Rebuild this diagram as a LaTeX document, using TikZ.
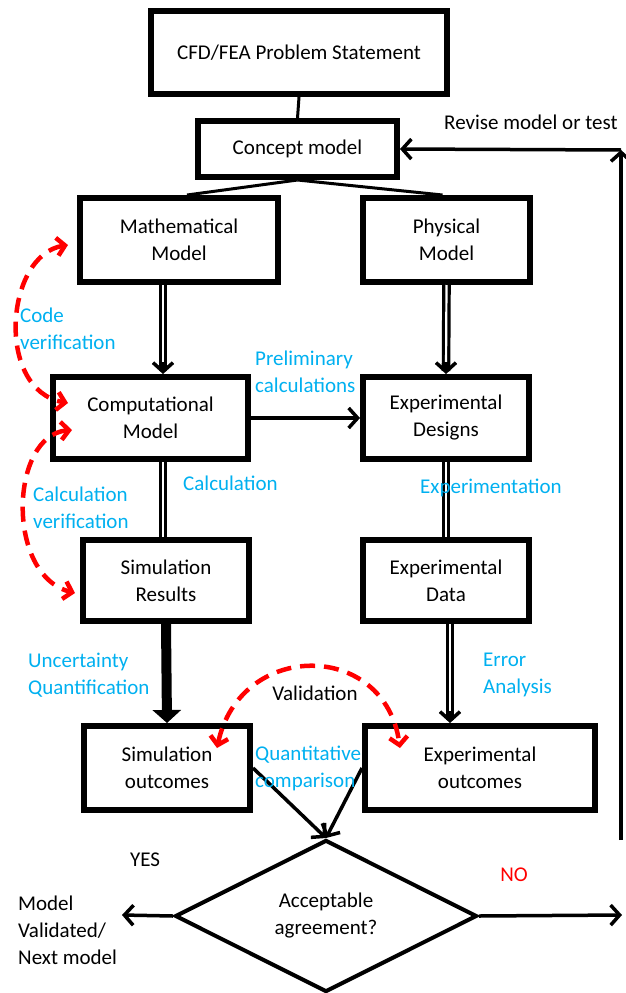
\documentclass[tikz,border=0pt]{standalone}
\usepackage{fontspec}
\setmainfont{Carlito}
\usetikzlibrary{arrows.meta,shapes.geometric,calc}
\definecolor{cblue}{HTML}{00B0F0}
\definecolor{cred}{HTML}{FF0000}
\begin{document}
\begin{tikzpicture}[x=1pt,y=-1pt,
  every node/.style={font=\fontsize{21}{27}\selectfont, inner sep=0pt},
  box/.style={draw, line width=6pt, align=center},
  lbl/.style={text=cblue, align=left, anchor=west},
  plain/.style={line width=3pt},
  arr/.style={line width=3.5pt, -{Straight Barb[length=9pt,width=20pt]}},
  dbl/.style={double, line width=3.2pt, double distance=2.2pt},
  fat/.style={line width=10pt, -{Triangle[length=13pt,width=28pt]}},
  redarr/.style={cred, line width=4.5pt, dash pattern=on 15pt off 9pt, {Straight Barb[length=8pt,width=18pt]}-{Straight Barb[length=8pt,width=18pt]}}
]
\useasboundingbox (0,0) rectangle (625,993);

% boxes
\node[box, minimum width=296, minimum height=83] (ps) at (299,52.5) {CFD/FEA Problem Statement};
\node[box, minimum width=199, minimum height=56] (concept) at (297.5,149) {Concept model};
\node[box, minimum width=198, minimum height=84] (math) at (179,240) {Mathematical\\Model};
\node[box, minimum width=167, minimum height=84] (phys) at (446.5,240) {Physical\\Model};
\node[box, minimum width=195, minimum height=82] (comp) at (150.5,418) {Computational\\Model};
\node[box, minimum width=166, minimum height=82] (expd) at (446,418) {Experimental\\Designs};
\node[box, minimum width=166, minimum height=81] (simr) at (166,580.5) {Simulation\\Results};
\node[box, minimum width=166, minimum height=81] (expdata) at (446,580.5) {Experimental\\Data};
\node[box, minimum width=166, minimum height=84] (simo) at (167,768) {Simulation\\outcomes};
\node[box, minimum width=230, minimum height=84] (expo) at (480,768) {Experimental\\outcomes};
\node[draw, shape=diamond, aspect=2, line width=4pt, align=center, minimum width=302, minimum height=152] (dec) at (326,916) {Acceptable\\agreement?};

% helper coordinates
\coordinate (mc) at (163,0);
\coordinate (ec) at (450,0);
\coordinate (yesend) at (122,915);
\coordinate (noend) at (622,915);
\coordinate (fbbot) at (621,840);
\coordinate (fbtop) at (621,150);
\coordinate (cv1) at (68,245);
\coordinate (cv2) at (68,403);
\coordinate (cl1) at (72,430);
\coordinate (cl2) at (75,593);
\coordinate (va1) at (217,748);
\coordinate (va2) at (400,748);

% connectors
\draw[plain] (ps.south) -- (concept.north);
\draw[plain] (concept.south) -- ([xshift=8]math.north);
\draw[plain] (concept.south) -- ([xshift=-4]phys.north);
% double-line arrows (line, then tip)
\draw[dbl] (mc |- math.south) -- ($(mc |- comp.north)+(0,-3)$);
\draw[arr] ($(mc |- comp.north)+(0,-12)$) -- (mc |- comp.north);
\draw[dbl] (phys.south) -- ($(expd.north)+(0,-3)$);
\draw[arr] ($(expd.north)+(0,-12)$) -- (expd.north);
\draw[arr] (comp.east) -- (expd.west);
\draw[dbl] (mc |- comp.south) -- (mc |- simr.north);
\draw[dbl] (expd.south) -- (expdata.north);
\draw[fat] (simr.south) -- (simo.north);
\draw[dbl] (ec |- expdata.south) -- ($(ec |- expo.north)+(0,-3)$);
\draw[arr] ($(ec |- expo.north)+(0,-12)$) -- (ec |- expo.north);
\draw[arr] (simo.east) -- (dec.north);
\draw[arr] (expo.west) -- (dec.north);
\draw[arr] (dec.west) -- (yesend);
\draw[arr] (dec.east) -- (noend);
\draw[arr] (fbbot) -- (fbtop);
\draw[arr] (fbtop) -- (concept.east);

% red dashed verification / validation arcs
\draw[redarr] (cv1) .. controls (5,255) and (-5,390) .. (cv2);
\draw[redarr] (cl1) .. controls (10,435) and (5,575) .. (cl2);
\draw[redarr] (va1) .. controls (240,640) and (385,640) .. (va2);

% labels
\node[anchor=west] (revise) at (444,122) {Revise model or test};
\node[lbl] (lcode) at (20,329) {Code\\verification};
\node[lbl] (lprelim) at (255,372) {Preliminary\\calculations};
\node[lbl] (lcalc) at (183,483) {Calculation};
\node[lbl] (lcalcv) at (33,508) {Calculation\\verification};
\node[lbl] (lexp) at (420,488) {Experimentation};
\node[lbl] (lunc) at (28,675) {Uncertainty\\Quantification};
\node[lbl] (lerr) at (483,675) {Error\\Analysis};
\node (lval) at (315,693) {Validation};
\node[lbl] (lquant) at (255,768) {Quantitative\\comparison};
\node (lyes) at (145,860) {YES};
\node[text=cred] (lno) at (514,875) {NO};
\node[anchor=west, align=left] (lmv) at (18,930) {Model\\Validated/\\Next model};
\end{tikzpicture}
\end{document}
